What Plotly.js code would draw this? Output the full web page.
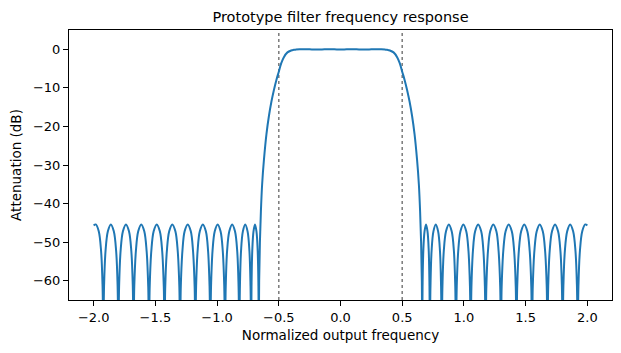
<!DOCTYPE html>
<html>
<head>
<meta charset="utf-8">
<script src="https://cdn.plot.ly/plotly-3.0.1.min.js"></script>
<style>html,body{margin:0;padding:0;background:#fff;}#chart{width:621px;height:353px;}</style>
</head>
<body>
<div id="chart"></div>
<script>
// Normalized output frequency (x) and attenuation in dB (y)
const freq = [
  -2.000, -1.983, -1.959, -1.940, -1.928, -1.922,
  -1.916, -1.904, -1.885, -1.861, -1.837, -1.818, -1.806, -1.800,
  -1.794, -1.782, -1.763, -1.7385, -1.714, -1.695, -1.683, -1.677,
  -1.671, -1.658, -1.639, -1.6145, -1.590, -1.571, -1.558, -1.552,
  -1.546, -1.533, -1.514, -1.489, -1.464, -1.445, -1.432, -1.426,
  -1.420, -1.407, -1.388, -1.363, -1.338, -1.319, -1.306, -1.300,
  -1.294, -1.281, -1.263, -1.238, -1.213, -1.195, -1.182, -1.176,
  -1.170, -1.158, -1.140, -1.1155, -1.091, -1.073, -1.061, -1.055,
  -1.049, -1.037, -1.019, -0.9955, -0.972, -0.954, -0.942, -0.936,
  -0.930, -0.919, -0.901, -0.878, -0.855, -0.837, -0.826, -0.820,
  -0.815, -0.806, -0.791, -0.772, -0.753, -0.738, -0.729, -0.724,
  -0.721, -0.715, -0.705, -0.693, -0.681, -0.671, -0.665, -0.662,
  -0.659, -0.653, -0.645, -0.635, -0.620, -0.600, -0.580, -0.560, -0.540, -0.520, -0.500, -0.480, -0.460, -0.430, -0.400, -0.380, -0.360, -0.330,
  -0.300, -0.250, -0.200, -0.150, -0.100, -0.050, 0.000, 0.050, 0.100, 0.150, 0.200, 0.250, 0.300,
  0.330, 0.360, 0.380, 0.400, 0.430, 0.460, 0.480, 0.500, 0.520, 0.540, 0.560, 0.580, 0.600, 0.620, 0.635, 0.645, 0.653, 0.659,
  0.662, 0.665, 0.671, 0.681, 0.693, 0.705, 0.715, 0.721,
  0.724, 0.729, 0.738, 0.753, 0.772, 0.791, 0.806, 0.815,
  0.820, 0.826, 0.837, 0.855, 0.878, 0.901, 0.919, 0.930,
  0.936, 0.942, 0.954, 0.972, 0.9955, 1.019, 1.037, 1.049,
  1.055, 1.061, 1.073, 1.091, 1.1155, 1.140, 1.158, 1.170,
  1.176, 1.182, 1.195, 1.213, 1.238, 1.263, 1.281, 1.294,
  1.300, 1.306, 1.319, 1.338, 1.363, 1.388, 1.407, 1.420,
  1.426, 1.432, 1.445, 1.464, 1.489, 1.514, 1.533, 1.546,
  1.552, 1.558, 1.571, 1.590, 1.6145, 1.639, 1.658, 1.671,
  1.677, 1.683, 1.695, 1.714, 1.7385, 1.763, 1.782, 1.794,
  1.800, 1.806, 1.818, 1.837, 1.861, 1.885, 1.904, 1.916,
  1.922, 1.928, 1.940, 1.959, 1.983, 2.000
];
const atten = [
  -45.7, -45.4, -47.2, -52.3, -61.5, -75,
  -61.5, -52.3, -47.2, -45.4, -47.2, -52.3, -61.5, -75,
  -61.5, -52.3, -47.2, -45.4, -47.2, -52.3, -61.5, -75,
  -61.5, -52.3, -47.2, -45.4, -47.2, -52.3, -61.5, -75,
  -61.5, -52.3, -47.2, -45.4, -47.2, -52.3, -61.5, -75,
  -61.5, -52.3, -47.2, -45.4, -47.2, -52.3, -61.5, -75,
  -61.5, -52.3, -47.2, -45.4, -47.2, -52.3, -61.5, -75,
  -61.5, -52.3, -47.2, -45.4, -47.2, -52.3, -61.5, -75,
  -61.5, -52.3, -47.2, -45.4, -47.2, -52.3, -61.5, -75,
  -61.5, -52.3, -47.2, -45.4, -47.2, -52.3, -61.5, -75,
  -61.5, -52.3, -47.2, -45.4, -47.2, -52.3, -61.5, -75,
  -61.5, -52.3, -47.2, -45.4, -47.2, -52.3, -61.5, -75,
  -60.0, -50.0, -42.0, -35.0, -28.5, -22.0, -17.3, -13.6, -10.6, -8.0, -5.8, -3.6, -2.1, -0.8, -0.3, -0.15, -0.08, 0.0,
  0.02, -0.02, -0.06, -0.04, 0.0, -0.02, -0.05, -0.02, 0.0, -0.04, -0.06, -0.02, 0.02,
  0.0, -0.08, -0.15, -0.3, -0.8, -2.1, -3.6, -5.8, -8.0, -10.6, -13.6, -17.3, -22.0, -28.5, -35.0, -42.0, -50.0, -60.0,
  -75, -61.5, -52.3, -47.2, -45.4, -47.2, -52.3, -61.5,
  -75, -61.5, -52.3, -47.2, -45.4, -47.2, -52.3, -61.5,
  -75, -61.5, -52.3, -47.2, -45.4, -47.2, -52.3, -61.5,
  -75, -61.5, -52.3, -47.2, -45.4, -47.2, -52.3, -61.5,
  -75, -61.5, -52.3, -47.2, -45.4, -47.2, -52.3, -61.5,
  -75, -61.5, -52.3, -47.2, -45.4, -47.2, -52.3, -61.5,
  -75, -61.5, -52.3, -47.2, -45.4, -47.2, -52.3, -61.5,
  -75, -61.5, -52.3, -47.2, -45.4, -47.2, -52.3, -61.5,
  -75, -61.5, -52.3, -47.2, -45.4, -47.2, -52.3, -61.5,
  -75, -61.5, -52.3, -47.2, -45.4, -47.2, -52.3, -61.5,
  -75, -61.5, -52.3, -47.2, -45.4, -47.2, -52.3, -61.5,
  -75, -61.5, -52.3, -47.2, -45.4, -45.7
];
const bandEdges = [-0.5, 0.5];
const xTickVals = [-2.0, -1.5, -1.0, -0.5, 0.0, 0.5, 1.0, 1.5, 2.0];
const xTickText = ["\u22122.0", "\u22121.5", "\u22121.0", "\u22120.5", "0.0", "0.5", "1.0", "1.5", "2.0"];
const yTickVals = [0, -10, -20, -30, -40, -50, -60];
const yTickText = ["0", "\u221210", "\u221220", "\u221230", "\u221240", "\u221250", "\u221260"];

const font = "DejaVu Sans, sans-serif";
const trace = {
  x: freq, y: atten, type: "scatter", mode: "lines",
  line: {color: "#1f77b4", width: 2, shape: "spline", smoothing: 1},
  hoverinfo: "skip"
};
const shapes = bandEdges.map(v => ({
  type: "line", xref: "x", yref: "y domain", x0: v, x1: v, y0: 0, y1: 1,
  line: {color: "#7a7a7a", width: 1.5, dash: "dot"}, layer: "below"
}));
const axisCommon = {
  showgrid: false, zeroline: false, showline: true, mirror: true,
  linecolor: "#000", linewidth: 1, ticks: "outside", ticklen: 5, tickwidth: 1,
  tickcolor: "#000", tickfont: {family: font, size: 13, color: "#000"}
};
const layout = {
  width: 621, height: 353,
  margin: {l: 69, r: 9, t: 30, b: 53},
  paper_bgcolor: "#fff", plot_bgcolor: "#fff",
  showlegend: false,
  font: {family: font, color: "#000"},
  title: {text: "Prototype filter frequency response", font: {family: font, size: 14.5, color: "#000"},
          x: 0.5, xref: "paper", xanchor: "center", y: 1 - 17/353, yref: "container", yanchor: "middle"},
  xaxis: Object.assign({}, axisCommon, {
    range: [-2.2, 2.2], tickmode: "array", tickvals: xTickVals, ticktext: xTickText,
    title: {text: "Normalized output frequency", font: {family: font, size: 13.5, color: "#000"}, standoff: 6}
  }),
  yaxis: Object.assign({}, axisCommon, {
    range: [-65, 5], tickmode: "array", tickvals: yTickVals, ticktext: yTickText,
    title: {text: "Attenuation (dB)", font: {family: font, size: 13.5, color: "#000"}, standoff: 8}
  }),
  shapes: shapes
};
Plotly.newPlot("chart", [trace], layout, {staticPlot: true, displayModeBar: false});
</script>
</body>
</html>
